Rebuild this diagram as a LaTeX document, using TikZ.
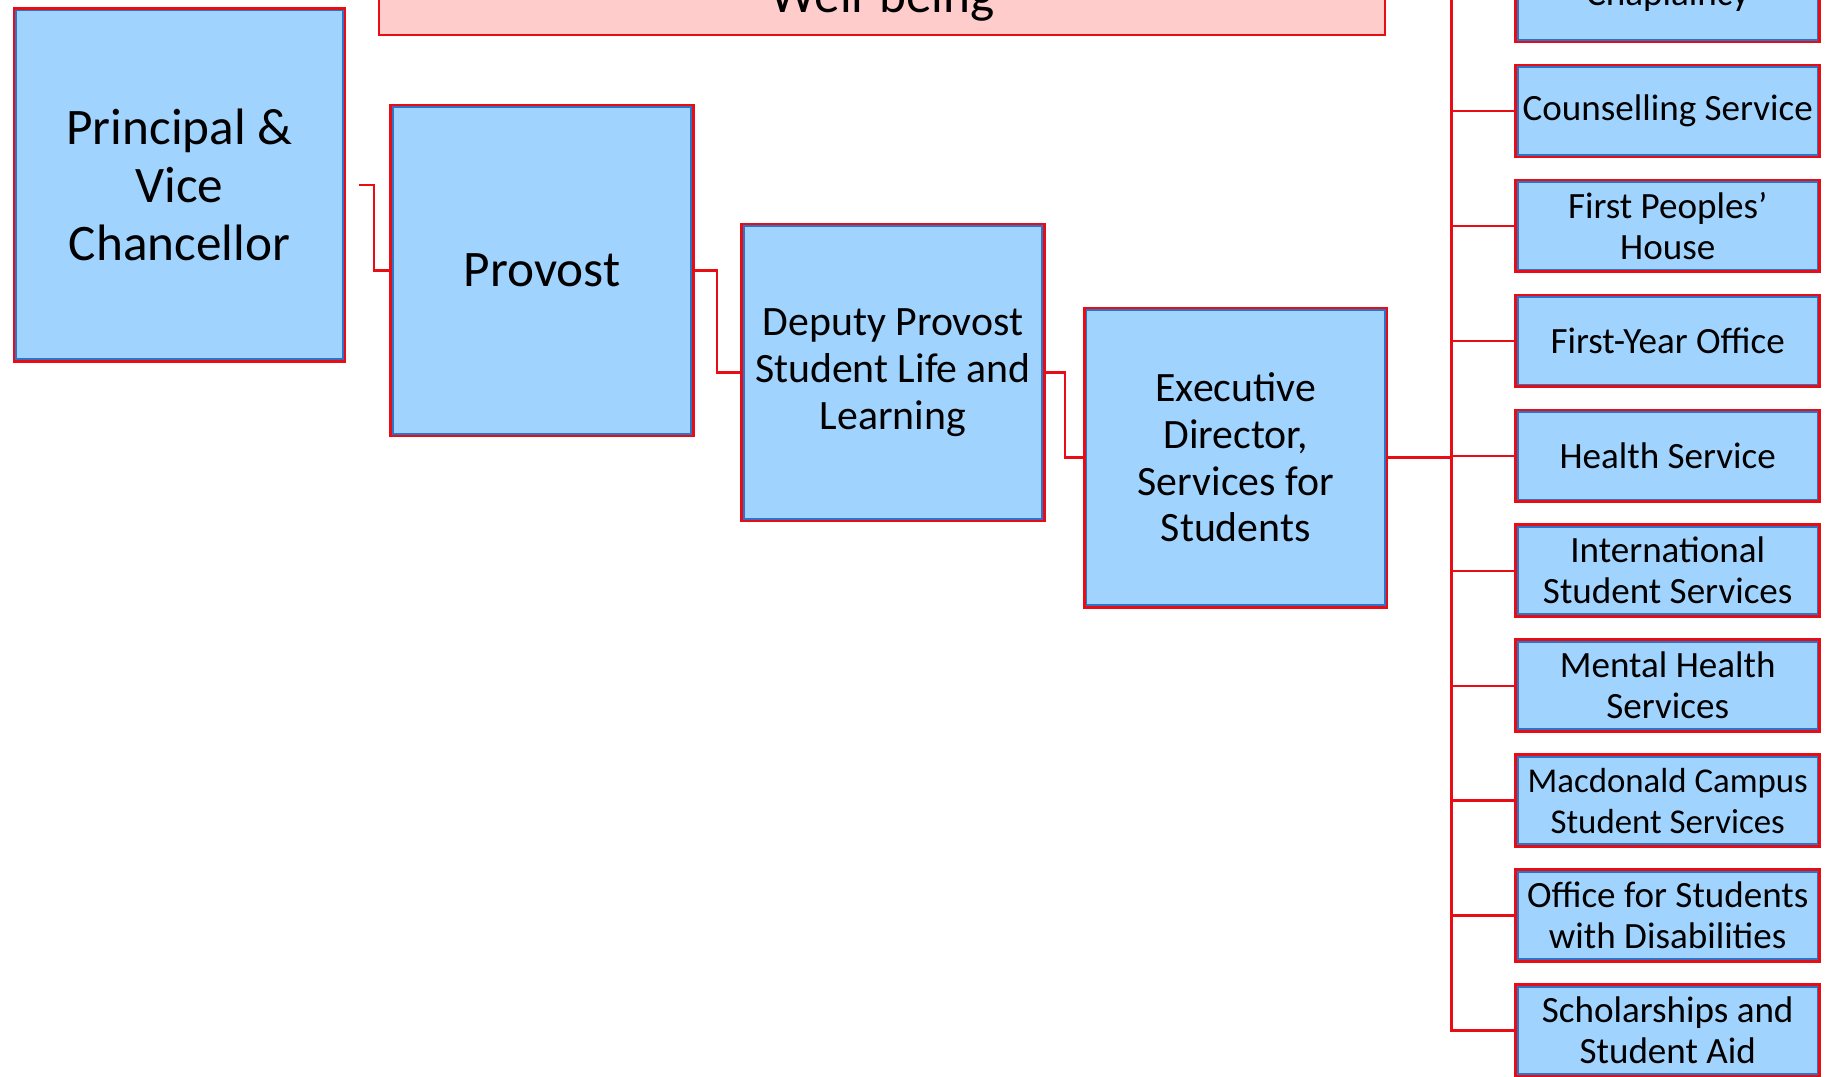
\documentclass[tikz,border=0pt]{standalone}
\usepackage{fontspec}
\setmainfont{Carlito}
\definecolor{boxfill}{RGB}{160,211,254}
\definecolor{boxline}{RGB}{45,115,200}
\definecolor{linkred}{RGB}{232,12,20}
\definecolor{wellfill}{RGB}{255,204,204}

\begin{document}
\begin{tikzpicture}
    \tikzstyle{unit} = [rectangle, draw=boxline, line width=0.45pt, fill=boxfill, align=center,
                        inner sep=0pt, preaction={draw=linkred, line width=1.7pt}]
    \tikzstyle{topbox} = [unit, minimum width=2.56cm, font=\fontsize{12.5}{14.2}\selectfont]
    \tikzstyle{midbox} = [unit, minimum width=2.56cm, font=\fontsize{10.2}{11.4}\selectfont]
    \tikzstyle{svcbox} = [unit, minimum width=2.57cm, minimum height=0.75cm]
    \tikzstyle{link} = [draw=linkred, line width=0.55pt]
  \useasboundingbox (0,0) rectangle (15.68,-9.23);
  \fill[white] (0,0) rectangle (15.68,-9.23);
  \clip (0,0) rectangle (15.68,-9.23);
  % top banner, cut by the page
  \node[rectangle, draw=linkred, line width=0.6pt, fill=wellfill, minimum width=8.63cm,
        minimum height=1.2cm, anchor=south](well) at (7.565,-0.31){};
  \node[anchor=base, font=\fontsize{12.5}{14.2}\selectfont](welltxt) at (7.57,-0.11){Well-being};
  % chain of offices
  \node[topbox, minimum width=2.80cm, minimum height=2.99cm](prin) at (1.54,-1.585){Principal \&\\Vice\\Chancellor};
  \node[topbox, minimum height=2.80cm](prov) at (4.65,-2.32){Provost};
  \node[midbox, minimum height=2.51cm](dep) at (7.66,-3.195){Deputy Provost\\Student Life and\\Learning};
  \node[midbox, minimum height=2.53cm](exec) at (10.60,-3.925){Executive\\Director,\\Services for\\Students};
  % services
  \foreach \name/\fs [count=\i from 0] in {Chaplaincy/9.05, Counselling Service/9.05,
      First Peoples’\\House/9.05, First-Year Office/9.05, Health Service/9.05,
      International\\Student Services/9.05, Mental Health\\Services/9.05,
      Macdonald Campus\\Student Services/8.5, Office for Students\\with Disabilities/9.05,
      Scholarships and\\Student Aid/9.05}
    \node[svcbox, font=\fontsize{\fs}{10}\selectfont](svc\i) at (14.305,0.035-0.986*\i){\name};
  % connectors
  \coordinate (bustop) at (12.45,0.6);
  \draw[link] ([xshift=0.13cm]prin.east) -- ++(0.13,0) |- (prov.west);
  \draw[link] (prov.east) -- ++(0.21,0) |- (dep.west);
  \draw[link] (dep.east) -- ++(0.19,0) |- (exec.west);
  \draw[link] (exec.east) -- (exec.east -| bustop);
  \draw[link] (bustop) |- (svc9.west);
  \foreach \i in {0,...,8}
    \draw[link] (svc\i.west) -- (svc\i.west -| bustop);
\end{tikzpicture}
\end{document}
